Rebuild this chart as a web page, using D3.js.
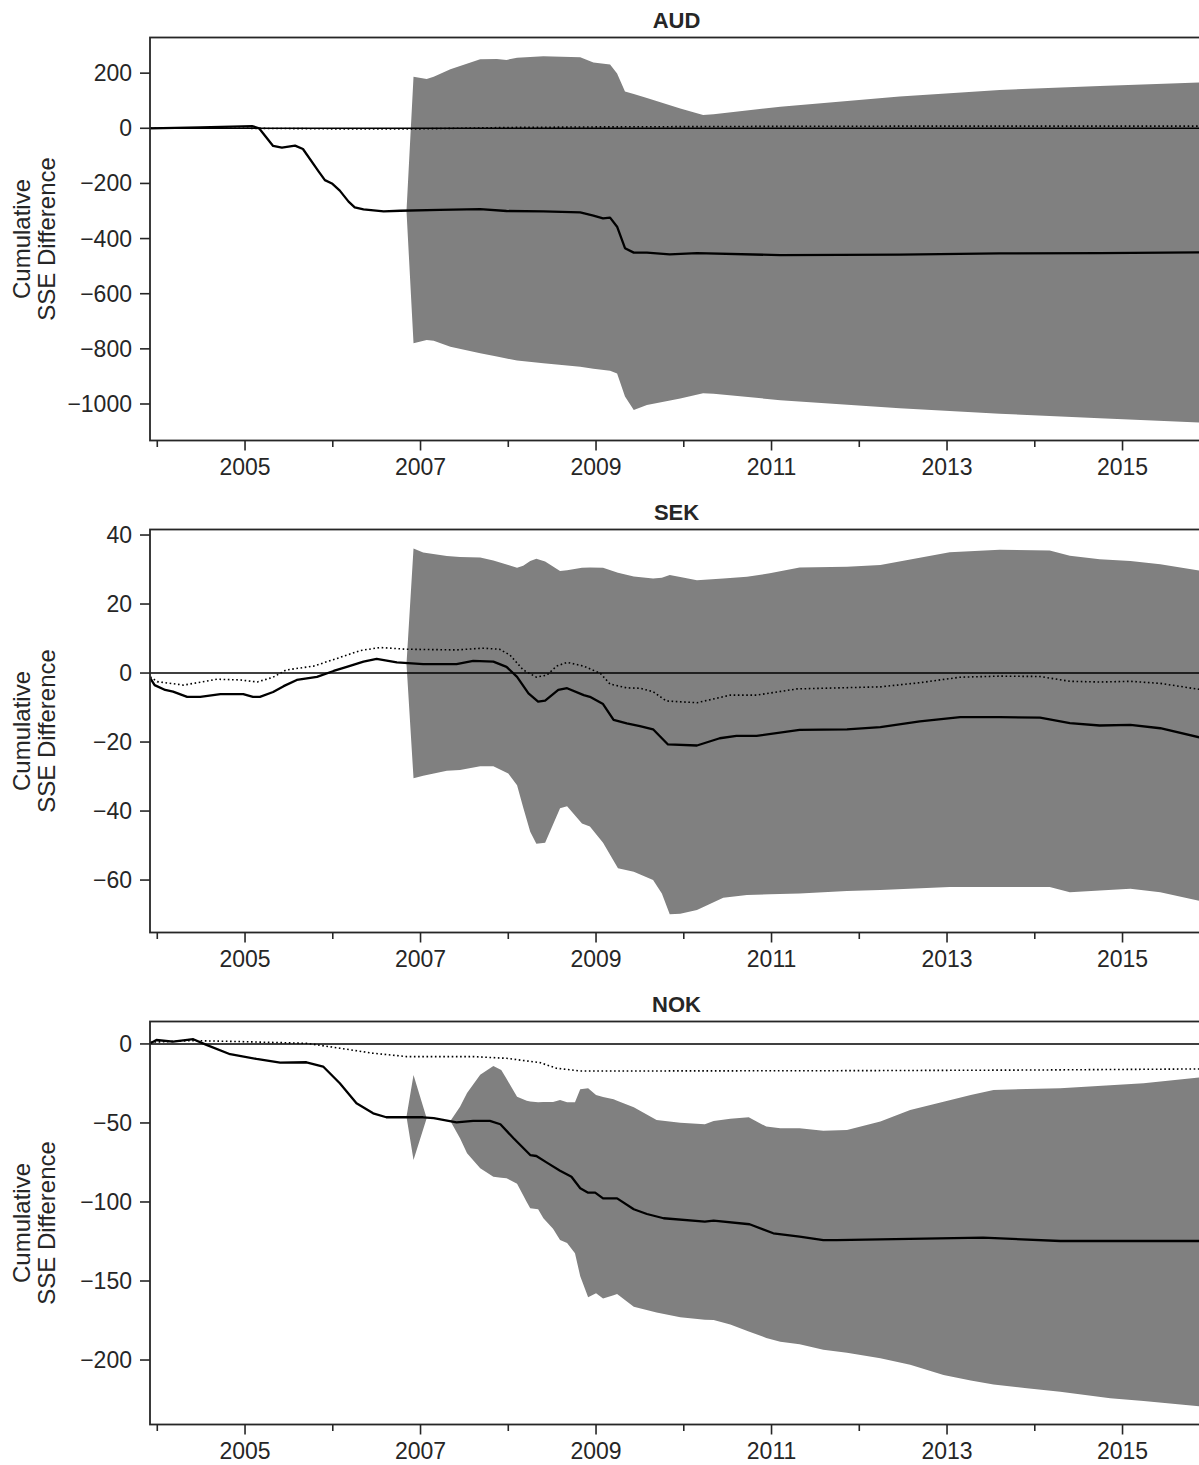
<!DOCTYPE html>
<html><head><meta charset="utf-8">
<script src="https://cdn.jsdelivr.net/npm/d3@7"></script>
<style>
body{margin:0;background:#fff}
text{font-family:"Liberation Sans",Arial,Helvetica,sans-serif;fill:#262626}
</style>
</head><body>
<svg id="chart" width="1199" height="1465"></svg>
<script>
// ---------------- DATA ----------------
const panelNames = ["AUD", "SEK", "NOK"];
const yLabelLines = ["Cumulative", "SSE Difference"];
const xTickYears = [2004, 2005, 2006, 2007, 2008, 2009, 2010, 2011, 2012, 2013, 2014, 2015];
const xLabelYears = [2005, 2007, 2009, 2011, 2013, 2015];
const audYTicks = [200, 0, -200, -400, -600, -800, -1000];
const sekYTicks = [40, 20, 0, -20, -40, -60];
const nokYTicks = [0, -50, -100, -150, -200];

// [decimal year, value]
const audSolid = [
 [2003.92,0],[2004.49,3],[2005.08,8],[2005.16,0],[2005.32,-64],[2005.42,-70],[2005.57,-63],[2005.66,-75],
 [2005.84,-157],[2005.91,-188],[2005.99,-200],[2006.08,-226],[2006.18,-266],[2006.25,-287],[2006.35,-294],
 [2006.58,-301],[2006.77,-299],[2007.22,-296],[2007.68,-293],[2007.98,-300],[2008.40,-301],[2008.82,-305],
 [2008.97,-317],[2009.08,-327],[2009.16,-324],[2009.24,-357],[2009.33,-435],[2009.43,-451],[2009.58,-451],
 [2009.84,-457],[2010.15,-453],[2011.10,-460],[2012.46,-458],[2013.60,-454],[2014.74,-453],[2015.92,-450]
];
const audDotted = [
 [2003.92,0],[2005.0,0],[2006.0,-2],[2007.0,-2],[2008.0,3],[2009.0,5],[2011.0,7],[2013.0,8],[2015.92,8]
];
// [decimal year, lower, upper]
const audBand = [
 [2006.84,-300,-300],[2006.92,-780,187],[2007.07,-768,179],[2007.15,-771,187],[2007.34,-792,214],
 [2007.68,-816,250],[2007.87,-828,251],[2007.98,-835,248],[2008.10,-842,256],[2008.40,-852,261],
 [2008.82,-865,258],[2008.97,-872,239],[2009.16,-879,231],[2009.24,-889,199],[2009.33,-973,133],
 [2009.43,-1022,124],[2009.58,-1004,110],[2009.96,-980,72],[2010.22,-961,48],[2010.34,-963,51],
 [2011.10,-986,78],[2012.46,-1015,115],[2013.60,-1035,139],[2014.74,-1052,153],[2015.92,-1068,167]
];

const sekSolid = [
 [2003.92,-1.5],[2003.97,-3.5],[2004.09,-4.9],[2004.18,-5.4],[2004.34,-6.9],[2004.49,-6.9],[2004.72,-6.1],
 [2004.98,-6.1],[2005.09,-6.9],[2005.17,-6.9],[2005.32,-5.5],[2005.44,-3.8],[2005.59,-2.0],[2005.82,-1.1],
 [2006.01,0.6],[2006.16,1.8],[2006.35,3.3],[2006.50,4.1],[2006.73,3.1],[2007.03,2.6],[2007.41,2.6],
 [2007.60,3.5],[2007.83,3.3],[2007.98,1.8],[2008.10,-1.1],[2008.23,-5.9],[2008.34,-8.3],[2008.42,-8.0],
 [2008.57,-4.9],[2008.67,-4.4],[2008.86,-6.4],[2008.93,-6.9],[2009.08,-9.0],[2009.20,-13.6],[2009.35,-14.6],
 [2009.50,-15.4],[2009.65,-16.3],[2009.82,-20.7],[2010.15,-21.0],[2010.41,-18.9],[2010.60,-18.2],
 [2010.83,-18.2],[2011.32,-16.5],[2011.86,-16.3],[2012.24,-15.7],[2012.69,-14.0],[2013.15,-12.8],
 [2013.60,-12.8],[2014.06,-12.9],[2014.40,-14.5],[2014.74,-15.2],[2015.09,-15.0],[2015.43,-16.0],[2015.92,-18.9]
];
const sekDotted = [
 [2003.92,-1.1],[2004.00,-2.5],[2004.30,-3.5],[2004.68,-1.8],[2004.95,-2.0],[2005.14,-2.6],[2005.32,-1.2],
 [2005.47,0.9],[2005.78,2.0],[2006.08,4.5],[2006.31,6.5],[2006.54,7.4],[2006.84,6.9],[2007.41,6.7],
 [2007.71,7.2],[2007.90,6.9],[2008.02,5.2],[2008.17,0.9],[2008.32,-1.2],[2008.44,-0.6],[2008.55,2.0],
 [2008.67,3.1],[2008.86,2.0],[2009.05,-0.1],[2009.16,-3.2],[2009.35,-4.3],[2009.50,-4.4],[2009.65,-5.4],
 [2009.80,-8.1],[2010.15,-8.6],[2010.53,-6.4],[2010.83,-6.4],[2011.29,-4.6],[2012.24,-4.0],[2012.69,-2.8],
 [2013.15,-1.2],[2013.60,-0.9],[2014.06,-1.0],[2014.40,-2.4],[2014.74,-2.6],[2015.09,-2.4],[2015.43,-3.0],
 [2015.92,-4.9]
];
const sekBand = [
 [2006.84,2.6,2.6],[2006.92,-30.5,36.1],[2007.03,-29.8,34.9],[2007.30,-28.3,33.9],[2007.45,-28.1,33.6],
 [2007.68,-27.0,33.5],[2007.83,-27.0,32.6],[2008.00,-29.1,31.3],[2008.10,-32.5,30.5],[2008.17,-39.0,31.1],
 [2008.25,-46.0,32.5],[2008.32,-49.5,33.1],[2008.42,-49.2,32.3],[2008.59,-39.2,29.6],[2008.67,-38.6,29.8],
 [2008.84,-43.6,30.5],[2008.93,-44.5,30.6],[2009.08,-49.2,30.5],[2009.25,-56.6,29.1],[2009.43,-57.6,28.0],
 [2009.65,-60.0,27.4],[2009.75,-63.9,27.6],[2009.84,-69.9,28.4],[2009.96,-69.8,27.8],[2010.15,-68.7,26.9],
 [2010.45,-65.1,27.4],[2010.72,-64.3,27.9],[2010.98,-64.1,28.9],[2011.32,-63.9,30.6],[2011.86,-63.2,30.8],
 [2012.24,-62.9,31.3],[2013.03,-62.0,35.0],[2013.60,-62.0,35.7],[2014.17,-62.0,35.5],[2014.40,-63.5,34.0],
 [2014.74,-63.0,33.0],[2015.09,-62.5,32.5],[2015.43,-63.5,31.5],[2015.92,-66.3,29.5]
];

const nokSolid = [
 [2003.92,0.4],[2003.99,2.5],[2004.18,1.5],[2004.41,3.0],[2004.56,-0.6],[2004.83,-6.5],[2005.13,-9.5],
 [2005.40,-11.8],[2005.70,-11.6],[2005.89,-14.3],[2006.08,-24.9],[2006.27,-37.5],[2006.46,-43.9],
 [2006.61,-46.4],[2007.03,-46.4],[2007.15,-47.0],[2007.41,-49.6],[2007.60,-48.7],[2007.79,-48.7],
 [2007.91,-50.8],[2008.06,-59.7],[2008.25,-70.3],[2008.32,-70.9],[2008.44,-75.1],[2008.59,-80.2],
 [2008.72,-84.0],[2008.82,-91.3],[2008.91,-94.1],[2008.99,-94.1],[2009.08,-97.7],[2009.24,-97.7],
 [2009.43,-104.6],[2009.58,-107.6],[2009.77,-110.3],[2010.24,-112.4],[2010.34,-111.8],[2010.75,-114.1],
 [2011.02,-119.8],[2011.32,-121.9],[2011.59,-124.1],[2011.74,-124.1],[2012.24,-123.6],[2013.41,-122.6],
 [2014.29,-124.7],[2015.92,-124.7]
];
const nokDotted = [
 [2003.92,1.1],[2004.41,2.1],[2004.94,1.5],[2005.70,0.4],[2006.08,-2.7],[2006.46,-5.9],[2006.84,-8.0],
 [2007.60,-8.0],[2007.98,-9.1],[2008.36,-11.8],[2008.55,-15.4],[2008.82,-17.1],[2009.50,-17.1],
 [2012.0,-16.9],[2014.0,-16.5],[2015.92,-15.8]
];
const nokBand = [
 [2006.84,-46,-46],[2006.92,-73.4,-19.6],[2007.07,-47,-47],[2007.34,-48.7,-48.7],[2007.45,-59.7,-39.7],
 [2007.53,-69.2,-31],[2007.68,-78.7,-19.5],[2007.83,-84,-13.9],[2007.92,-84.6,-16.5],[2007.98,-85,-22],
 [2008.10,-88.5,-33.4],[2008.21,-100,-35.9],[2008.25,-104,-36.4],[2008.34,-104.6,-36.9],[2008.40,-110.3,-36.8],
 [2008.51,-117,-36.7],[2008.59,-124,-35.4],[2008.67,-126,-36.9],[2008.76,-132.5,-36.9],[2008.82,-147,-28.7],
 [2008.91,-160.3,-28.1],[2009.00,-157.8,-32.3],[2009.08,-161,-33.5],[2009.20,-159,-35],[2009.24,-158.2,-36],
 [2009.43,-166.3,-40.1],[2009.69,-170,-48.1],[2009.96,-173,-49.8],[2010.24,-174.5,-50.8],[2010.34,-174.7,-48.7],
 [2010.53,-177.5,-47.3],[2010.74,-182,-46.4],[2010.94,-186,-52.3],[2011.10,-188.4,-53.4],[2011.32,-190,-53.4],
 [2011.59,-193.5,-54.9],[2011.86,-195.4,-54.4],[2012.24,-198.9,-49],[2012.58,-203,-41.8],[2012.96,-209.5,-36.5],
 [2013.27,-213,-32.3],[2013.53,-215.5,-29.1],[2013.91,-217.9,-28.5],[2014.29,-220,-28.0],[2014.86,-224.2,-26.2],
 [2015.24,-226,-24.9],[2015.92,-229.5,-21]
];

// ---------------- LAYOUT ----------------
const svg = d3.select("#chart");
const plotLeft = 150, plotRight = 1203, plotH = 403;
const panelTops = [37.5, 529.5, 1021.5];
const ink = "#262626";
const x = d3.scaleLinear().domain([2003.917, 2015.917]).range([plotLeft, plotRight]);

const panels = [
  {name: panelNames[0], solid: audSolid, dotted: audDotted, band: audBand, ticks: audYTicks, dom: [-1132.4, 329.3]},
  {name: panelNames[1], solid: sekSolid, dotted: sekDotted, band: sekBand, ticks: sekYTicks, dom: [-75.2, 41.6]},
  {name: panelNames[2], solid: nokSolid, dotted: nokDotted, band: nokBand, ticks: nokYTicks, dom: [-240.8, 14.2]}
];
const fmt = d3.format("d");

panels.forEach((p, i) => {
  const top = panelTops[i], bottom = top + plotH;
  const y = d3.scaleLinear().domain(p.dom).range([bottom, top]);
  const g = svg.append("g");
  const clipId = "clip" + i;
  g.append("clipPath").attr("id", clipId).append("rect")
    .attr("x", plotLeft).attr("y", top).attr("width", plotRight - plotLeft).attr("height", plotH);
  const plot = g.append("g").attr("clip-path", `url(#${clipId})`);

  plot.append("path").datum(p.band)
    .attr("d", d3.area().x(d => x(d[0])).y0(d => y(d[1])).y1(d => y(d[2])))
    .attr("fill", "#808080");

  plot.append("line").attr("x1", plotLeft).attr("x2", plotRight)
    .attr("y1", y(0)).attr("y2", y(0)).attr("stroke", "#000").attr("stroke-width", 1.5);

  const line = d3.line().x(d => x(d[0])).y(d => y(d[1]));
  plot.append("path").datum(p.dotted).attr("d", line).attr("fill", "none")
    .attr("stroke", "#000").attr("stroke-width", 1.6).attr("stroke-dasharray", "1.6,2.6");
  plot.append("path").datum(p.solid).attr("d", line).attr("fill", "none")
    .attr("stroke", "#000").attr("stroke-width", 2.3).attr("stroke-linejoin", "round");

  // spines
  g.append("rect").attr("x", plotLeft).attr("y", top).attr("width", plotRight - plotLeft).attr("height", plotH)
    .attr("fill", "none").attr("stroke", ink).attr("stroke-width", 1.8);

  // y ticks
  p.ticks.forEach(t => {
    const yy = y(t);
    g.append("line").attr("x1", plotLeft - 10).attr("x2", plotLeft).attr("y1", yy).attr("y2", yy)
      .attr("stroke", ink).attr("stroke-width", 1.6);
    g.append("text").attr("x", plotLeft - 18).attr("y", yy).attr("dy", "0.35em")
      .attr("text-anchor", "end").attr("font-size", 23).text(fmt(t));
  });

  // x ticks
  xTickYears.forEach(yr => {
    const major = xLabelYears.includes(yr);
    g.append("line").attr("x1", x(yr)).attr("x2", x(yr)).attr("y1", bottom).attr("y2", bottom + (major ? 10 : 6.5))
      .attr("stroke", ink).attr("stroke-width", 1.6);
    if (major) {
      g.append("text").attr("x", x(yr)).attr("y", bottom + 34.5).attr("text-anchor", "middle")
        .attr("font-size", 23).text(yr);
    }
  });

  // title
  g.append("text").attr("x", (plotLeft + plotRight) / 2).attr("y", top - 9.5).attr("text-anchor", "middle")
    .attr("font-size", 22).attr("font-weight", "bold").text(p.name);

  // y label
  const cy = top + plotH / 2;
  [30, 55].forEach((bx, k) => {
    g.append("text").attr("transform", `translate(${bx},${cy}) rotate(-90)`)
      .attr("text-anchor", "middle").attr("font-size", 24).text(yLabelLines[k]);
  });
});
</script>
</body></html>
